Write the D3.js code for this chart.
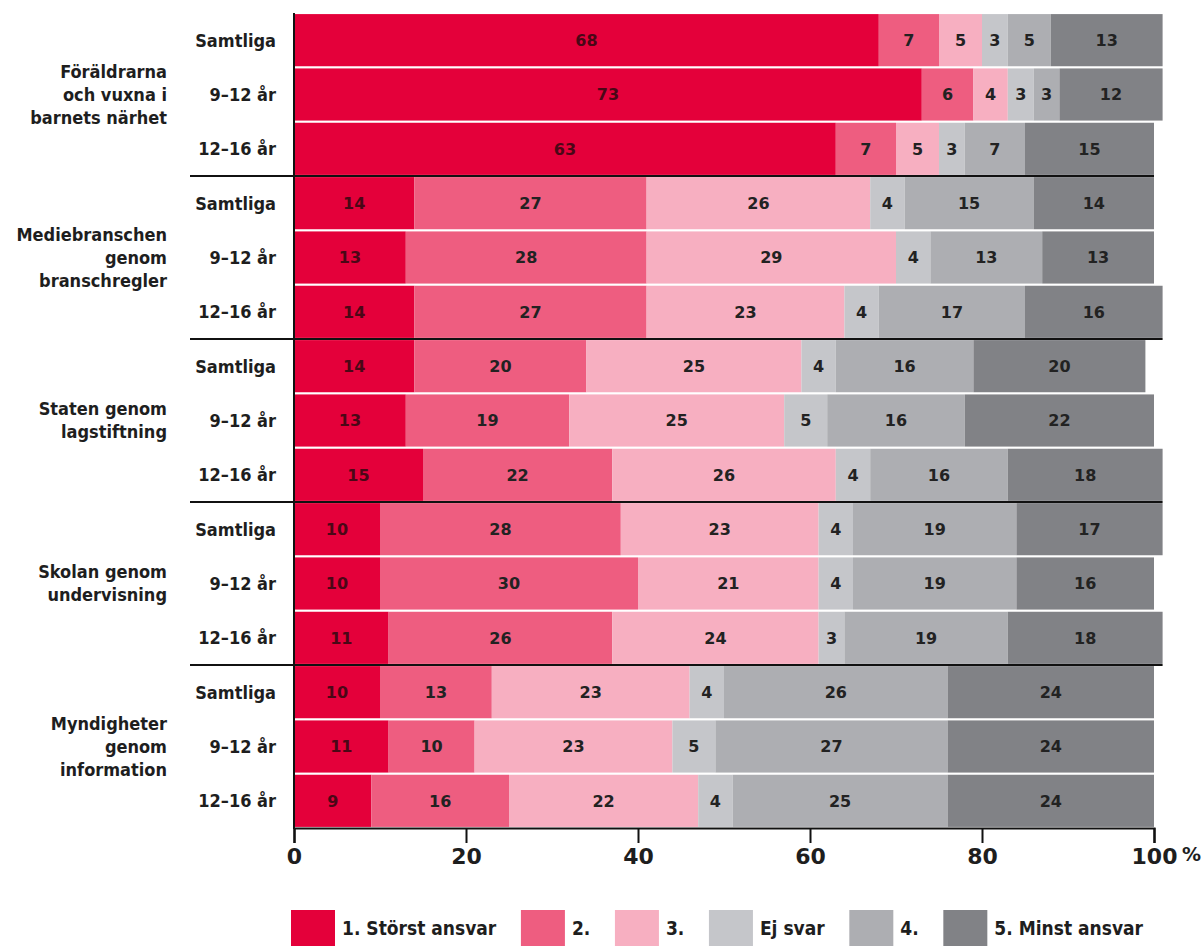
<!DOCTYPE html>
<html>
<head>
<meta charset="utf-8">
<script src="https://cdn.jsdelivr.net/npm/d3@7"></script>
<style>
  html, body { margin: 0; padding: 0; background: #fff; }
  svg { display: block; }
  text { font-family: "DejaVu Sans Condensed", "DejaVu Sans", sans-serif; font-weight: bold; fill: #1e1e1e; }
</style>
</head>
<body>
<svg id="chart" width="1204" height="946"></svg>
<script>
// ---------- DATA ----------
const groups = [
  ["Föräldrarna", "och vuxna i", "barnets närhet"],
  ["Mediebranschen", "genom", "branschregler"],
  ["Staten genom", "lagstiftning"],
  ["Skolan genom", "undervisning"],
  ["Myndigheter", "genom", "information"]
];
const subgroups = ["Samtliga", "9–12 år", "12–16 år"];
const seriesNames = ["1. Störst ansvar", "2.", "3.", "Ej svar", "4.", "5. Minst ansvar"];
// values per row: [1, 2, 3, Ej svar, 4, 5]
const foraldrar = [[68, 7, 5, 3, 5, 13], [73, 6, 4, 3, 3, 12], [63, 7, 5, 3, 7, 15]];
const media     = [[14, 27, 26, 4, 15, 14], [13, 28, 29, 4, 13, 13], [14, 27, 23, 4, 17, 16]];
const staten    = [[14, 20, 25, 4, 16, 20], [13, 19, 25, 5, 16, 22], [15, 22, 26, 4, 16, 18]];
const skolan    = [[10, 28, 23, 4, 19, 17], [10, 30, 21, 4, 19, 16], [11, 26, 24, 3, 19, 18]];
const myndig    = [[10, 13, 23, 4, 26, 24], [11, 10, 23, 5, 27, 24], [9, 16, 22, 4, 25, 24]];
const groupValues = [foraldrar, media, staten, skolan, myndig];
const xTicks = [0, 20, 40, 60, 80, 100];
const colors = ["#e4003a", "#ee5d80", "#f7afc1", "#c5c6ca", "#adaeb2", "#818286"];

// ---------- BUILD ROWS ----------
const rows = [];
groupValues.forEach((g, gi) => {
  g.forEach((vals, si) => {
    let acc = 0;
    const segs = vals.map((v, k) => { const s = { x0: acc, x1: acc + v, v, k }; acc += v; return s; });
    rows.push({ id: gi + "-" + si, gi, si, label: subgroups[si], segs, total: acc });
  });
});

const svg = d3.select("#chart");
const x = d3.scaleLinear().domain([0, 100]).range([294, 1154]);
const y = d3.scaleBand().domain(rows.map(r => r.id)).range([13, 828]).paddingInner(0.04).paddingOuter(0.02);

// bars
const rowG = svg.append("g").selectAll("g").data(rows).join("g")
  .attr("transform", r => `translate(0,${y(r.id)})`);
rowG.selectAll("rect").data(r => r.segs).join("rect")
  .attr("x", s => x(s.x0))
  .attr("width", s => x(s.x1) - x(s.x0))
  .attr("y", 0)
  .attr("height", y.bandwidth())
  .attr("fill", s => colors[s.k]);
rowG.selectAll("text.val").data(r => r.segs).join("text")
  .attr("class", "val")
  .attr("x", s => (x(s.x0) + x(s.x1)) / 2)
  .attr("y", y.bandwidth() / 2)
  .attr("dy", "0.36em")
  .attr("text-anchor", "middle")
  .style("font-family", "'DejaVu Sans', sans-serif")
  .style("font-size", "16px")
  .style("fill", s => s.k === 0 ? "#4a0716" : "#222")
  .text(s => s.v);

// row labels
svg.append("g").selectAll("text").data(rows).join("text")
  .attr("x", 276)
  .attr("y", r => y(r.id) + y.bandwidth() / 2)
  .attr("dy", "0.36em")
  .attr("text-anchor", "end")
  .style("font-size", "18px")
  .text(r => r.label);

// group labels
const lh = 23;
groups.forEach((lines, gi) => {
  const mid = rows.filter(r => r.gi === gi)[1];
  const cy = y(mid.id) + y.bandwidth() / 2;
  const t = svg.append("text")
    .attr("text-anchor", "end")
    .style("font-size", "18px");
  lines.forEach((ln, i) => {
    t.append("tspan")
      .attr("x", 167)
      .attr("y", cy + (i - (lines.length - 1) / 2) * lh)
      .attr("dy", "0.36em")
      .text(ln);
  });
});

// group separators
for (let gi = 1; gi < groups.length; gi++) {
  const above = rows.filter(r => r.gi === gi - 1)[2];
  const below = rows.filter(r => r.gi === gi)[0];
  const yy = (y(above.id) + y.bandwidth() + y(below.id)) / 2;
  svg.append("line")
    .attr("x1", 190).attr("x2", x(Math.max(above.total, below.total)))
    .attr("y1", yy).attr("y2", yy)
    .attr("stroke", "#111").attr("stroke-width", 2);
}

// y axis line
svg.append("line")
  .attr("x1", x(0)).attr("x2", x(0))
  .attr("y1", 13).attr("y2", 829)
  .attr("stroke", "#111").attr("stroke-width", 2);

// x axis
const axisG = svg.append("g").attr("transform", "translate(0,828)")
  .call(d3.axisBottom(x).tickValues(xTicks).tickSize(15).tickPadding(5).tickFormat(d => d));
axisG.select(".domain").attr("stroke", "#111").attr("stroke-width", 2.2);
axisG.selectAll(".tick line").attr("stroke", "#111").attr("stroke-width", 2);
axisG.selectAll(".tick text")
  .style("font-family", "'DejaVu Sans', sans-serif")
  .style("font-weight", "bold")
  .style("font-size", "22px")
  .attr("fill", "#1e1e1e");
svg.append("text")
  .attr("x", x(100) + 28)
  .attr("y", 828 + 15 + 5)
  .attr("dy", "0.71em")
  .style("font-family", "'DejaVu Sans', sans-serif")
  .style("font-size", "19px")
  .text("%");

// legend
const legend = svg.append("g");
const sqW = 44, sqH = 36, tGap = 7, legStart = 291, legEnd = 1143, legY = 910;
const items = seriesNames.map((n, i) => {
  const g = legend.append("g");
  g.append("rect").attr("width", sqW).attr("height", sqH).attr("fill", colors[i]);
  const t = g.append("text").attr("x", sqW + tGap).attr("y", sqH / 2).attr("dy", "0.36em")
    .style("font-size", "19px").text(n);
  return { g, w: sqW + tGap + t.node().getComputedTextLength() };
});
const totalW = d3.sum(items, d => d.w);
const gap = (legEnd - legStart - totalW) / (items.length - 1);
let cx = legStart;
items.forEach(it => { it.g.attr("transform", `translate(${cx},${legY})`); cx += it.w + gap; });
</script>
</body>
</html>
